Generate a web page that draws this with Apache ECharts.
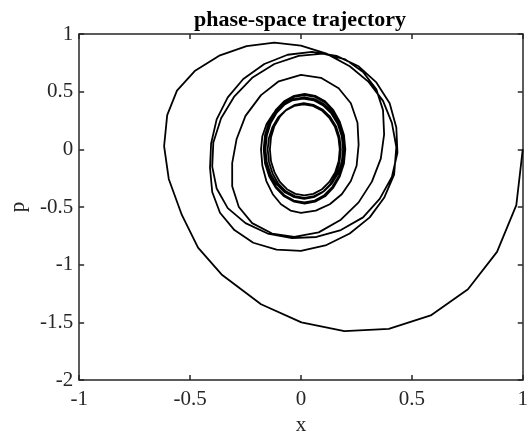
<!DOCTYPE html>
<html>
<head>
<meta charset="utf-8">
<title>phase-space trajectory</title>
<script src="https://cdn.jsdelivr.net/npm/echarts@6/dist/echarts.min.js"></script>
<style>
  html, body { margin: 0; padding: 0; background: #ffffff; }
  #chart { width: 531px; height: 441px; }
</style>
</head>
<body>
<div id="chart"></div>
<script>
// Trajectory samples: position x and momentum p, in time order.
const trajX = [
  1.000, 0.971, 0.884, 0.753, 0.585, 0.396, 0.196, 0.002, -0.180, -0.355,
  -0.464, -0.537, -0.596, -0.617, -0.603, -0.559, -0.479, -0.365, -0.245, -0.120,
  0.000, 0.115, 0.220, 0.305, 0.370, 0.410, 0.430,
  0.420, 0.375, 0.310, 0.220, 0.115, 0.000, -0.110, -0.215, -0.300, -0.365,
  -0.400, -0.410, -0.405, -0.380, -0.330, -0.260, -0.165, -0.060, 0.050, 0.160,
  0.260, 0.340, 0.400, 0.430, 0.435,
  0.410, 0.355, 0.280, 0.180, 0.070, -0.040, -0.150, -0.250, -0.330, -0.380,
  -0.400, -0.395, -0.360, -0.300, -0.220, -0.120, -0.010, 0.100, 0.200, 0.280,
  0.340, 0.370, 0.375, 0.360,
  0.320, 0.260, 0.180, 0.080, -0.030, -0.130, -0.220, -0.280, -0.310, -0.310,
  -0.290, -0.250, -0.180, -0.100, 0.000, 0.090, 0.170, 0.225, 0.255, 0.260,
  0.251, 0.225, 0.184, 0.130, 0.067, 0.000,
  -0.047, -0.090, -0.127, -0.156, -0.174, -0.180,
  -0.174, -0.155, -0.124, -0.085, -0.039, 0.010,
  0.057, 0.100, 0.137, 0.166, 0.184, 0.190,
  0.184, 0.167, 0.139, 0.103, 0.060, 0.015,
  -0.028, -0.068, -0.102, -0.128, -0.144, -0.150,
  -0.144, -0.128, -0.103, -0.069, -0.030, 0.012,
  0.054, 0.094, 0.127, 0.153, 0.169, 0.175,
  0.170, 0.154, 0.128, 0.095, 0.056, 0.015,
  -0.025, -0.063, -0.095, -0.119, -0.135, -0.140,
  -0.135, -0.120, -0.095, -0.064, -0.027, 0.013,
  0.056, 0.097, 0.131, 0.158, 0.174, 0.180,
  0.174, 0.158, 0.132, 0.098, 0.058, 0.015,
  -0.030, -0.073, -0.109, -0.137, -0.154, -0.160,
  -0.154, -0.137, -0.109, -0.073, -0.030, 0.015,
  0.062, 0.105, 0.142, 0.171, 0.189, 0.195,
  0.189, 0.171, 0.142, 0.105, 0.062, 0.015,
  -0.032, -0.075, -0.112, -0.141, -0.159, -0.165,
  -0.159, -0.141, -0.112, -0.074, -0.030, 0.017,
  0.064, 0.109, 0.146, 0.175, 0.194, 0.200,
  0.194, 0.175, 0.146, 0.109, 0.064, 0.017,
  -0.031, -0.076, -0.114, -0.143, -0.162, -0.168,
  -0.162, -0.143, -0.114, -0.076, -0.031, 0.017,
  0.064, 0.109, 0.146, 0.175, 0.194, 0.200
];
const trajP = [
  0.000, -0.483, -0.889, -1.213, -1.440, -1.556, -1.576, -1.500, -1.343, -1.090,
  -0.853, -0.569, -0.257, 0.027, 0.296, 0.509, 0.679, 0.815, 0.895, 0.925,
  0.900, 0.830, 0.720, 0.585, 0.420, 0.230, 0.020,
  -0.220, -0.420, -0.590, -0.730, -0.830, -0.880, -0.870, -0.810, -0.700, -0.550,
  -0.370, -0.160, 0.050, 0.260, 0.450, 0.610, 0.740, 0.820, 0.845, 0.810,
  0.720, 0.580, 0.400, 0.190, -0.030,
  -0.240, -0.430, -0.590, -0.700, -0.760, -0.770, -0.730, -0.640, -0.510, -0.340,
  -0.150, 0.060, 0.270, 0.460, 0.620, 0.740, 0.810, 0.830, 0.780, 0.670,
  0.520, 0.340, 0.130, -0.080,
  -0.280, -0.460, -0.610, -0.720, -0.760, -0.730, -0.640, -0.500, -0.320, -0.120,
  0.090, 0.290, 0.470, 0.590, 0.645, 0.620, 0.530, 0.400, 0.230, 0.040,
  -0.142, -0.275, -0.389, -0.476, -0.531, -0.550,
  -0.531, -0.476, -0.389, -0.275, -0.142, 0.000,
  0.114, 0.220, 0.311, 0.381, 0.425, 0.440,
  0.425, 0.381, 0.311, 0.220, 0.114, 0.000,
  -0.109, -0.210, -0.297, -0.364, -0.406, -0.420,
  -0.406, -0.364, -0.297, -0.210, -0.109, 0.000,
  0.101, 0.195, 0.276, 0.338, 0.377, 0.390,
  0.377, 0.338, 0.276, 0.195, 0.101, 0.000,
  -0.104, -0.200, -0.283, -0.346, -0.386, -0.400,
  -0.386, -0.346, -0.283, -0.200, -0.104, 0.000,
  0.104, 0.200, 0.283, 0.346, 0.386, 0.400,
  0.386, 0.346, 0.283, 0.200, 0.104, 0.000,
  -0.111, -0.215, -0.304, -0.372, -0.415, -0.430,
  -0.415, -0.372, -0.304, -0.215, -0.111, 0.000,
  0.117, 0.225, 0.318, 0.390, 0.435, 0.450,
  0.435, 0.390, 0.318, 0.225, 0.117, 0.000,
  -0.119, -0.230, -0.325, -0.398, -0.444, -0.460,
  -0.444, -0.398, -0.325, -0.230, -0.119, 0.000,
  0.122, 0.235, 0.332, 0.407, 0.454, 0.470,
  0.454, 0.407, 0.332, 0.235, 0.122, 0.000,
  -0.122, -0.235, -0.332, -0.407, -0.454, -0.470,
  -0.454, -0.407, -0.332, -0.235, -0.122, 0.000,
  0.124, 0.240, 0.339, 0.416, 0.464, 0.480,
  0.464, 0.416, 0.339, 0.240, 0.124, 0.000
];

const xTicks = { min: -1, max: 1, step: 0.5 };
const pTicks = { min: -2, max: 1, step: 0.5 };

const points = trajX.map((x, i) => [x, trajP[i]]);

const ink = '#262626';
const serif = '"Liberation Serif", "Times New Roman", serif';

const frameLine = { show: true, onZero: false, lineStyle: { color: ink, width: 1.5 } };
const tickStyle = { show: true, inside: true, length: 5, lineStyle: { color: ink, width: 1.5 } };
const tickLabel = { color: ink, fontFamily: serif, fontSize: 21 };

const chart = echarts.init(document.getElementById('chart'), null, { renderer: 'canvas' });

chart.setOption({
  animation: false,
  backgroundColor: '#ffffff',
  grid: { left: 71, right: 2.5, top: 34, bottom: 54.5, containLabel: false },
  graphic: [{
    type: 'text',
    x: 300, y: 20,
    style: {
      text: 'phase-space trajectory',
      fill: '#000000',
      font: 'bold 22px ' + serif,
      textAlign: 'center',
      textVerticalAlign: 'middle'
    }
  }],
  xAxis: [{
    type: 'value', position: 'bottom',
    min: xTicks.min, max: xTicks.max, interval: xTicks.step,
    axisLine: frameLine, axisTick: tickStyle,
    axisLabel: Object.assign({ margin: 9 }, tickLabel),
    splitLine: { show: false },
    name: 'x', nameLocation: 'middle', nameGap: 35,
    nameTextStyle: { color: ink, fontFamily: serif, fontSize: 21 }
  }, {
    type: 'value', position: 'top',
    min: xTicks.min, max: xTicks.max, interval: xTicks.step,
    axisLine: frameLine, axisTick: tickStyle,
    axisLabel: { show: false }, splitLine: { show: false }
  }],
  yAxis: [{
    type: 'value', position: 'left',
    min: pTicks.min, max: pTicks.max, interval: pTicks.step,
    axisLine: frameLine, axisTick: tickStyle,
    axisLabel: Object.assign({ margin: 6 }, tickLabel),
    splitLine: { show: false },
    name: 'p', nameLocation: 'middle', nameGap: 42, nameRotate: 90,
    nameTextStyle: { color: ink, fontFamily: serif, fontSize: 21 }
  }, {
    type: 'value', position: 'right',
    min: pTicks.min, max: pTicks.max, interval: pTicks.step,
    axisLine: frameLine, axisTick: tickStyle,
    axisLabel: { show: false }, splitLine: { show: false }
  }],
  series: [{
    type: 'line',
    data: points,
    xAxisIndex: 0, yAxisIndex: 0,
    showSymbol: false,
    smooth: false,
    clip: false,
    lineStyle: { color: '#000000', width: 1.8 }
  }]
});
</script>
</body>
</html>
